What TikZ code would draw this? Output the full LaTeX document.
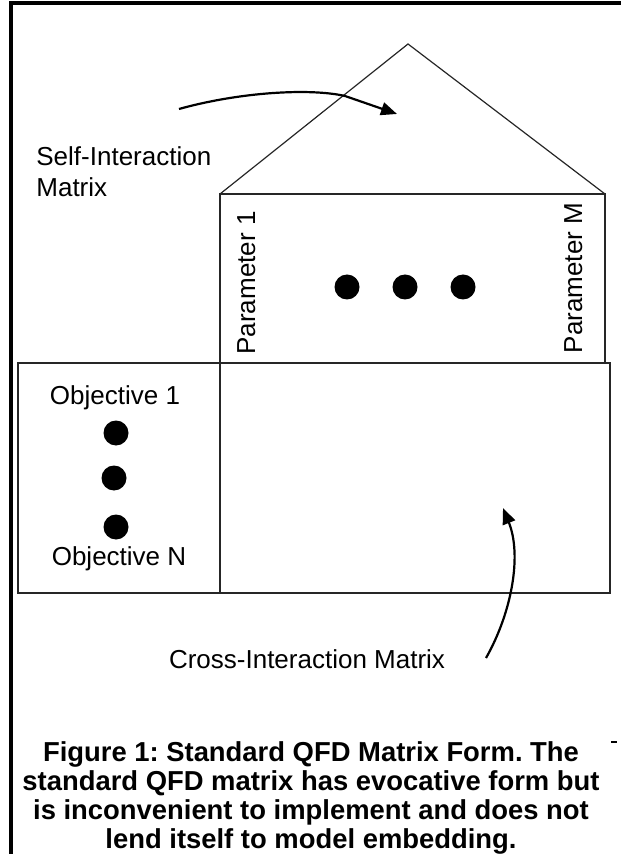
\documentclass[tikz,border=0pt]{standalone}
\usepackage{fontspec}
\setmainfont{Liberation Sans}
\usetikzlibrary{arrows.meta}
\frenchspacing

\begin{document}
\begin{tikzpicture}[x=0.5pt,y=-0.5pt,
  box/.style={draw=black!85,line width=0.6pt},
  pointer/.style={line width=1.1pt,-{Triangle[length=8pt,width=6.5pt]}},
  lbl/.style={font=\fontsize{13}{15.5}\selectfont,inner sep=0pt},
  dot/.style={circle,fill,inner sep=0pt,minimum size=12.5pt}]
  \useasboundingbox (0,0) rectangle (621,854);
  % outer frame
  \draw[line width=2pt] (11,854) -- (11,3) -- (621,3);
  \draw[line width=1pt] (611,742) -- (617,742);

  % roof and parameter block
  \coordinate (apex) at (408,44);
  \coordinate (roofl) at (220,194);
  \coordinate (roofr) at (605,194);
  \draw[box] (roofl) -- (apex) -- (roofr);
  \draw[box] (roofl) rectangle (605,363);
  % objective and cross block
  \draw[box] (18,363) rectangle (610,593);
  \draw[box] (220,363) -- (220,593);

  \node[lbl,rotate=90,anchor=base] (par1) at (255,283) {Parameter 1};
  \node[lbl,rotate=90,anchor=base] (parM) at (582,278) {Parameter M};
  \node[dot] (pdot1) at (347,287) {};
  \node[dot] (pdot2) at (405,287) {};
  \node[dot] (pdot3) at (463,287) {};

  \node[lbl,anchor=base] (obj1) at (115,405) {Objective 1};
  \node[dot] (odot1) at (116,433) {};
  \node[dot] (odot2) at (114,478) {};
  \node[dot] (odot3) at (116,527) {};
  \node[lbl,anchor=base] (objN) at (119,565) {Objective N};

  \node[lbl,align=left,anchor=north west] (self) at (36,146) {Self-Interaction\\Matrix};
  \node[lbl,anchor=base] (cross) at (307,668) {Cross-Interaction Matrix};

  % pointers
  \coordinate (selftail) at (179,109);
  \coordinate (selftip) at (397,114);
  \draw[pointer] (selftail) .. controls (240,92) and (310,88) .. (345,96) -- (selftip);
  \coordinate (crosstail) at (486,658);
  \coordinate (crosstip) at (503,508);
  \draw[pointer] (crosstail) .. controls (512,612) and (522,555) .. (crosstip);

  \node[font=\bfseries\fontsize{13.7}{14.5}\selectfont,align=center,anchor=north,inner sep=0pt] (caption) at (311,741)
    {Figure 1: Standard QFD Matrix Form. The\\ standard QFD matrix has evocative form but\\ is inconvenient to implement and does not\\ lend itself to model embedding.};
\end{tikzpicture}
\end{document}
